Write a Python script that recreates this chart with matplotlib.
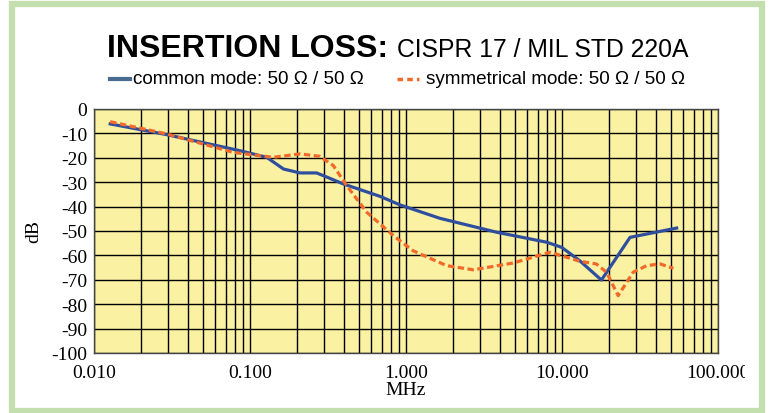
import numpy as np
import matplotlib.pyplot as plt
from matplotlib.patches import Rectangle
from matplotlib.transforms import Bbox, TransformedBbox

# data (MHz, dB)
cm_freq = [0.0127, 0.0292, 0.0863, 0.128, 0.164, 0.209, 0.267, 0.295, 0.396,
           0.681, 0.915, 1.65, 3.81, 7.98, 9.95, 13.0, 17.9, 27.3, 54.3]
cm_db = [-6.1, -10.5, -17.1, -19.8, -24.6, -26.2, -26.2, -27.3, -30.7,
         -35.8, -39.3, -44.8, -50.5, -54.6, -56.7, -62.2, -70.1, -52.6, -48.8]

sym_freq = [0.0127, 0.0292, 0.0782, 0.141, 0.209, 0.28, 0.342, 0.417, 0.56,
            0.83, 1.11, 1.82, 2.70, 4.88, 8.37, 13.0, 16.6, 19.3, 22.9,
            28.6, 34.9, 42.5, 51.8]
sym_db = [-5.2, -10.2, -17.8, -19.8, -18.4, -19.4, -23.2, -31.4, -42.3,
          -51.9, -58.1, -64.2, -65.9, -63.1, -58.7, -62.4, -63.5, -66.9, -76.5,
          -66.9, -64.2, -63.5, -65.3]

xticks = [0.01, 0.1, 1, 10, 100]
xlabels = ['0.010', '0.100', '1.000', '10.000', '100.000']
yticks = list(range(-100, 1, 10))

blue = '#2f4f9e'
orange = '#f2692a'
serif = 'Liberation Serif'
sans = 'Liberation Sans'

fig = plt.figure(figsize=(7.7, 4.14), dpi=100)
ax = fig.add_axes([94 / 770, 60 / 414, 624 / 770, 244 / 414])
ax.set_facecolor('#fbf1a3')

ax.plot(cm_freq, cm_db, color=blue, lw=2.3, zorder=3)
ax.plot(sym_freq, sym_db, color=orange, lw=2.3, ls=(0, (2.0, 1.1)), zorder=3)

ax.set_xscale('log')
ax.set_xlim(0.01, 100)
ax.set_ylim(-100, 0)
ax.set_xticks(xticks)
ax.set_xticklabels(xlabels)
ax.set_yticks(yticks)
ax.set_yticklabels([str(v) for v in yticks])
ax.grid(True, which='both', color='black', lw=1.0)
ax.set_axisbelow(True)
ax.tick_params(which='both', length=0, labelsize=14)
ax.tick_params(axis='x', pad=8)
ax.tick_params(axis='y', pad=5)
for lab in ax.get_xticklabels() + ax.get_yticklabels():
    lab.set_fontfamily(serif)
for s in ax.spines.values():
    s.set_color('#444444')
    s.set_linewidth(1.0)

ax.set_xlabel('MHz', fontfamily=serif, fontsize=14, labelpad=0)
ax.set_ylabel('dB', fontfamily=serif, fontsize=14, labelpad=6)

# last x label is cut off at the chart edge
clip = TransformedBbox(Bbox([[0, 0], [745 / 770, 1]]), fig.transFigure)
for lab in ax.get_xticklabels():
    lab.set_clip_box(clip)
    lab.set_clip_on(True)

# title
fig.text(107 / 770, 1 - 57 / 414, 'INSERTION LOSS:', fontfamily=sans,
         fontweight='bold', fontsize=23, ha='left', va='baseline')
fig.text(397 / 770, 1 - 57 / 414, 'CISPR 17 / MIL STD 220A', fontfamily=sans,
         fontsize=17.8, ha='left', va='baseline')

# legend
ly = 1 - 80 / 414
fig.add_artist(plt.Line2D([110 / 770, 130 / 770], [ly, ly], color='#4a6b90', lw=3))
fig.text(133 / 770, ly, 'common mode: 50 \u03a9 / 50 \u03a9', fontfamily=sans,
         fontsize=13.6, va='center', ha='left')
fig.add_artist(plt.Line2D([397 / 770, 419 / 770], [ly, ly], color=orange, lw=2.5,
                          ls=(0, (1.6, 1.2))))
fig.text(426 / 770, ly, 'symmetrical mode: 50 \u03a9 / 50 \u03a9', fontfamily=sans,
         fontsize=13.6, va='center', ha='left')

# green frame
fig.add_artist(Rectangle((12 / 770, 2 / 414), 750 / 770, 407 / 414,
                         transform=fig.transFigure, fill=False,
                         edgecolor='#c3dfae', lw=4.5, zorder=10))

fig.savefig('out.png', dpi=100)
